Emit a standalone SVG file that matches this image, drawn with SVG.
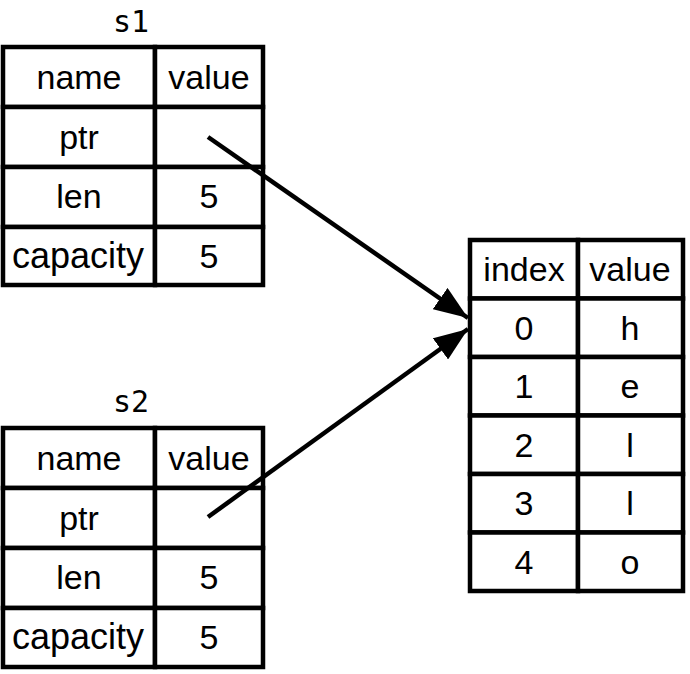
<svg xmlns="http://www.w3.org/2000/svg" width="690" height="674" viewBox="0 0 690 674">
<style>
.c{fill:#fff;stroke:#000;stroke-width:4.5}
.t{font-family:"Liberation Sans",Arial,sans-serif;font-size:34px;fill:#000;text-anchor:middle}
.w{font-size:36px}
.lbl{font-family:"DejaVu Sans Mono",monospace;font-size:30px;fill:#000;text-anchor:middle}
.a{stroke:#000;stroke-width:4.5;fill:none}
</style>
<defs>
<marker id="ah" markerUnits="userSpaceOnUse" markerWidth="36" markerHeight="26" refX="34" refY="13" orient="auto">
<path d="M0,0 L34,13 L0,26 z" fill="#000"/>
</marker>
</defs>
<rect width="690" height="674" fill="#fff"/>
<g id="s1">
<text class="lbl" x="131" y="32">s1</text>
<rect class="c" x="3" y="47" width="152" height="60"/><rect class="c" x="155" y="47" width="108" height="60"/>
<rect class="c" x="3" y="107" width="152" height="60"/><rect class="c" x="155" y="107" width="108" height="60"/>
<rect class="c" x="3" y="167" width="152" height="60"/><rect class="c" x="155" y="167" width="108" height="60"/>
<rect class="c" x="3" y="227" width="152" height="58"/><rect class="c" x="155" y="227" width="108" height="58"/>
<text class="t" x="79" y="89">name</text><text class="t" x="209" y="89">value</text>
<text class="t" x="79" y="149">ptr</text>
<text class="t" x="79" y="208">len</text><text class="t" x="209" y="208">5</text>
<text class="t w" x="78" y="268">capacity</text><text class="t" x="209" y="268">5</text>
</g>
<g id="s2">
<text class="lbl" x="131" y="412">s2</text>
<rect class="c" x="3" y="428" width="152" height="60"/><rect class="c" x="155" y="428" width="108" height="60"/>
<rect class="c" x="3" y="488" width="152" height="60"/><rect class="c" x="155" y="488" width="108" height="60"/>
<rect class="c" x="3" y="548" width="152" height="60"/><rect class="c" x="155" y="548" width="108" height="60"/>
<rect class="c" x="3" y="608" width="152" height="59"/><rect class="c" x="155" y="608" width="108" height="59"/>
<text class="t" x="79" y="470">name</text><text class="t" x="209" y="470">value</text>
<text class="t" x="79" y="530">ptr</text>
<text class="t" x="79" y="589">len</text><text class="t" x="209" y="589">5</text>
<text class="t w" x="78" y="649">capacity</text><text class="t" x="209" y="649">5</text>
</g>
<g id="heap">
<rect class="c" x="470" y="240" width="108" height="58.5"/><rect class="c" x="578" y="240" width="105" height="58.5"/>
<rect class="c" x="470" y="298.5" width="108" height="58.5"/><rect class="c" x="578" y="298.5" width="105" height="58.5"/>
<rect class="c" x="470" y="357" width="108" height="58.5"/><rect class="c" x="578" y="357" width="105" height="58.5"/>
<rect class="c" x="470" y="415.5" width="108" height="58.5"/><rect class="c" x="578" y="415.5" width="105" height="58.5"/>
<rect class="c" x="470" y="474" width="108" height="58.5"/><rect class="c" x="578" y="474" width="105" height="58.5"/>
<rect class="c" x="470" y="532.5" width="108" height="58.5"/><rect class="c" x="578" y="532.5" width="105" height="58.5"/>
<text class="t" x="524" y="281">index</text><text class="t" x="630" y="281">value</text>
<text class="t" x="524" y="340">0</text><text class="t" x="630" y="340">h</text>
<text class="t" x="524" y="398">1</text><text class="t" x="630" y="398">e</text>
<text class="t" x="524" y="457">2</text><text class="t" x="630" y="457">l</text>
<text class="t" x="524" y="515">3</text><text class="t" x="630" y="515">l</text>
<text class="t" x="524" y="574">4</text><text class="t" x="630" y="574">o</text>
</g>
<g id="connectors">
<line class="a" x1="208" y1="137" x2="468" y2="318" marker-end="url(#ah)"/>
<line class="a" x1="208" y1="517" x2="468" y2="329" marker-end="url(#ah)"/>
</g>
</svg>
